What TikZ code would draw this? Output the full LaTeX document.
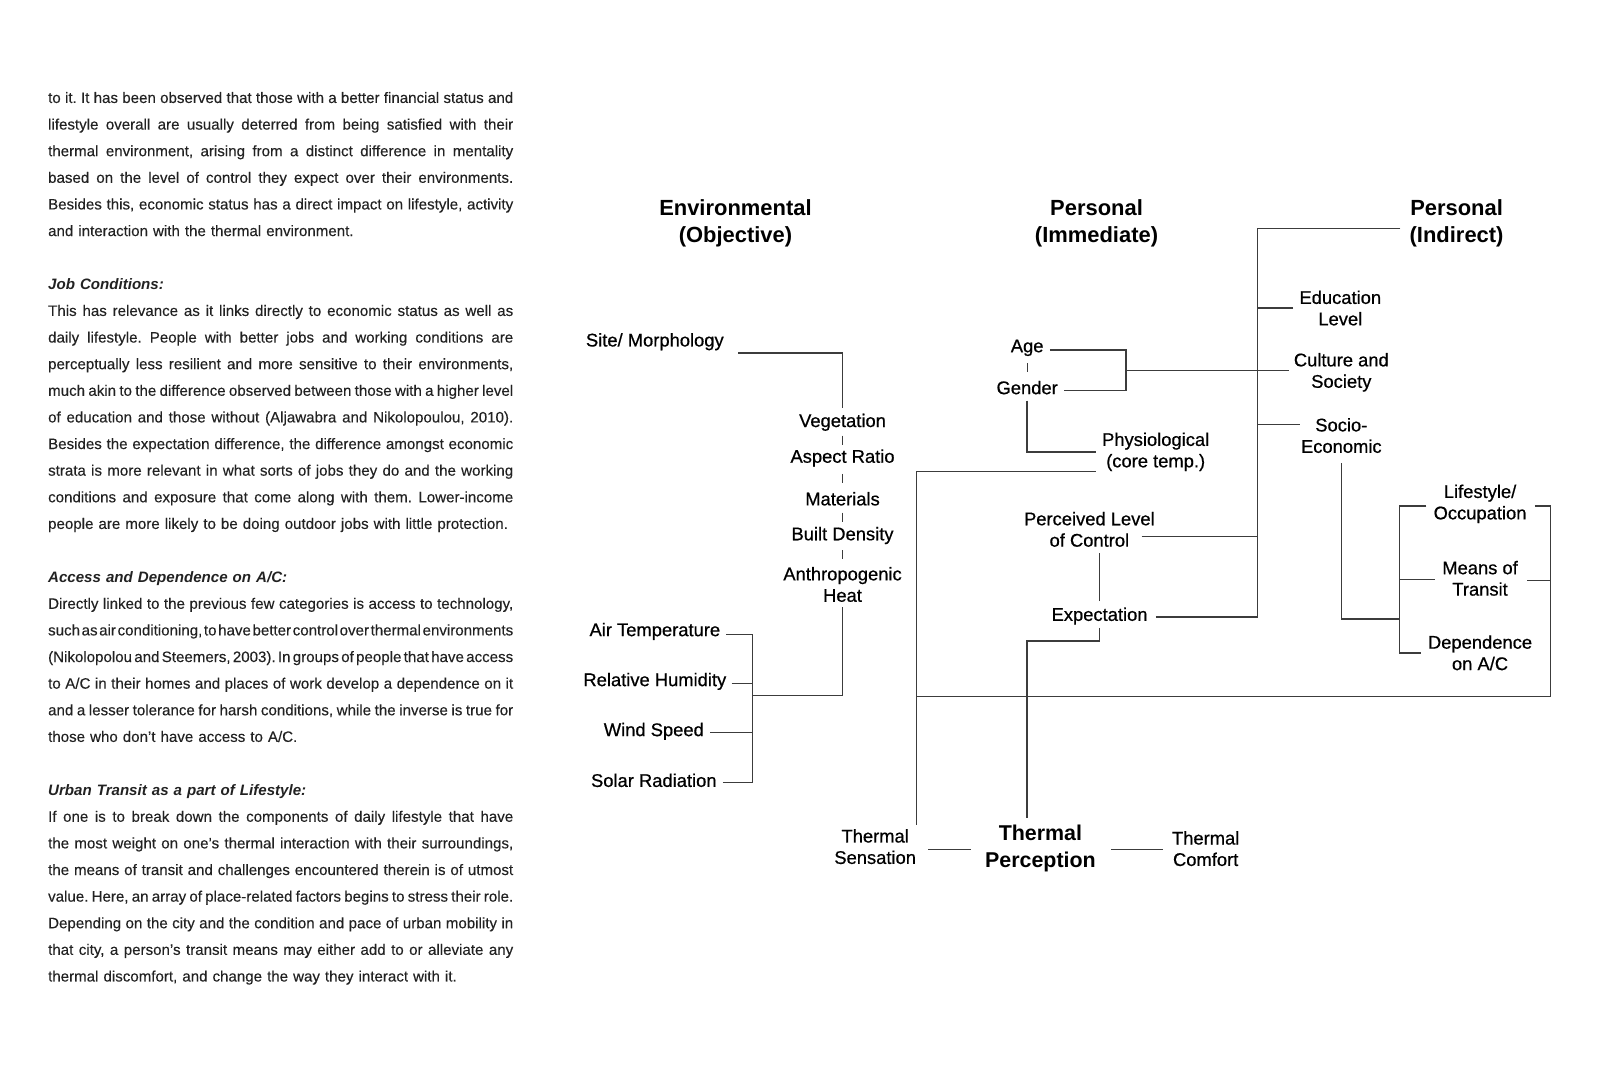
\documentclass[tikz,border=0pt]{standalone}
\usepackage{fontspec}
\setmainfont{Liberation Sans}
\newfontfamily\labfont[FakeBold=0.6]{Liberation Sans}
\newfontfamily\bodyfont[FakeBold=0.15]{Liberation Sans}
\usetikzlibrary{calc}
\definecolor{bodytext}{HTML}{222222}
\definecolor{linec}{HTML}{3C3C3C}
\newcommand\jl[1]{\makebox[\linewidth][s]{\spaceskip=0pt plus 1fil\xspaceskip=0pt plus 1fil\relax #1}\par}
\newcommand\lastln[1]{#1\par}
\newcommand\hdln[1]{{\fontspec{Liberation Sans}\bfseries\itshape #1}\par}
\newcommand\blankln{\mbox{}\par}
\begin{document}
\begin{tikzpicture}[x=1pt,y=-1pt,
  lab/.style={font=\labfont\fontsize{18}{21}\selectfont, align=center, inner sep=0pt},
  head/.style={font=\fontsize{21.5}{26}\selectfont\bfseries, align=center, inner sep=0pt},
  conn/.style={draw=linec, line width=1.4pt},
  tickmark/.style={draw=linec, line width=1.2pt}]
\fill[white] (0,-2) rectangle (1568.6,1043.1);
\useasboundingbox (0,-2) rectangle (1568.6,1043.1);

% ---------------- body text ----------------
\node[anchor=north west, inner sep=0pt, text width=456pt,
      font=\bodyfont\fontsize{14.8}{26.1}\selectfont, text=bodytext] (body) at (47,88) {%
\parindent=0pt\parskip=0pt\frenchspacing
\jl{to it. It has been observed that those with a better financial status and}
\jl{lifestyle overall are usually deterred from being satisfied with their}
\jl{thermal environment, arising from a distinct difference in mentality}
\jl{based on the level of control they expect over their environments.}
\jl{Besides this, economic status has a direct impact on lifestyle, activity}
\lastln{and interaction with the thermal environment.}
\blankln
\hdln{Job Conditions:}
\jl{This has relevance as it links directly to economic status as well as}
\jl{daily lifestyle. People with better jobs and working conditions are}
\jl{perceptually less resilient and more sensitive to their environments,}
\jl{much akin to the difference observed between those with a higher level}
\jl{of education and those without (Aljawabra and Nikolopoulou, 2010).}
\jl{Besides the expectation difference, the difference amongst economic}
\jl{strata is more relevant in what sorts of jobs they do and the working}
\jl{conditions and exposure that come along with them. Lower-income}
\lastln{people are more likely to be doing outdoor jobs with little protection.}
\blankln
\hdln{Access and Dependence on A/C:}
\jl{Directly linked to the previous few categories is access to technology,}
\jl{such as air conditioning, to have better control over thermal environments}
\jl{(Nikolopolou and Steemers, 2003). In groups of people that have access}
\jl{to A/C in their homes and places of work develop a dependence on it}
\jl{and a lesser tolerance for harsh conditions, while the inverse is true for}
\lastln{those who don’t have access to A/C.}
\blankln
\hdln{Urban Transit as a part of Lifestyle:}
\jl{If one is to break down the components of daily lifestyle that have}
\jl{the most weight on one’s thermal interaction with their surroundings,}
\jl{the means of transit and challenges encountered therein is of utmost}
\jl{value. Here, an array of place-related factors begins to stress their role.}
\jl{Depending on the city and the condition and pace of urban mobility in}
\jl{that city, a person’s transit means may either add to or alleviate any}
\lastln{thermal discomfort, and change the way they interact with it.}
};

% ---------------- headings ----------------
\node[head] (env) at (721,217) {Environmental\\(Objective)};
\node[head] (imm) at (1075,217) {Personal\\(Immediate)};
\node[head] (ind) at (1428,217) {Personal\\(Indirect)};

% ---------------- environmental ----------------
\node[lab] (site) at (642,333) {Site/ Morphology};
\node[lab] (veg)  at (826,412) {Vegetation};
\node[lab] (asp)  at (826,447) {Aspect Ratio};
\node[lab] (mat)  at (826,487) {Materials};
\node[lab] (bd)   at (826,523) {Built Density};
\node[lab] (anth) at (826,571) {Anthropogenic\\Heat};
\node[lab] (air)  at (642,617) {Air Temperature};
\node[lab] (rh)   at (642,666) {Relative Humidity};
\node[lab] (ws)   at (641,715) {Wind Speed};
\node[lab] (sr)   at (641,763) {Solar Radiation};

% ---------------- personal immediate ----------------
\node[lab] (age)  at (1007,339) {Age};
\node[lab] (gen)  at (1007,378) {Gender};
\node[lab] (phys) at (1133,441) {Physiological\\(core temp.)};
\node[lab] (perc) at (1068,517) {Perceived Level\\of Control};
\node[lab] (expc) at (1078,602) {Expectation};

% ---------------- personal indirect ----------------
\node[lab] (edu)   at (1314,300) {Education\\Level};
\node[lab] (cult)  at (1315,363) {Culture and\\Society};
\node[lab] (soc)   at (1315,425) {Socio-\\Economic};
\node[lab] (life)  at (1451,492) {Lifestyle/\\Occupation};
\node[lab] (means) at (1451,565) {Means of\\Transit};
\node[lab] (dep)   at (1451,638) {Dependence\\on A/C};

% ---------------- thermal ----------------
\node[lab] (tsens) at (858,828) {Thermal\\Sensation};
\node[head, font=\fontsize{21}{26}\selectfont\bfseries] (tperc) at (1020,830) {Thermal\\Perception};
\node[lab] (tcomf) at (1182,830) {Thermal\\Comfort};

% ---------------- junction coordinates ----------------
\coordinate (ej)  at (738,680);
\coordinate (agj) at (1104,361);
\coordinate (spb) at (1233,603);
\coordinate (lj)  at (1372,605);
\coordinate (rb)  at (1520,681);
\coordinate (tstop) at ($(tsens.north east)+(0,-4)$);
\coordinate (tpj) at ($(tperc.north)+(-13,-7)$);

% ---------------- environmental connectors ----------------
\draw[conn] ($(site.east)+(14,11)$) -| ($(veg.north)+(0,-5)$);
\draw[tickmark] ($(veg)!.5!(asp)+(0,-4.5)$) -- ++(0,9);
\draw[tickmark] ($(asp)!.5!(mat)+(0,-4.5)$) -- ++(0,9);
\draw[tickmark] ($(mat)!.5!(bd)+(0,-4.5)$) -- ++(0,9);
\draw[tickmark] ($(bd)+(0,14.5)$) -- ++(0,9);
\draw[conn] ($(anth.south)+(0,5)$) |- (ej);
\draw[conn] ($(air.east)+(6,3)$) -| (ej);
\draw[conn] ($(rh.east)+(5,2)$) -| (ej);
\draw[conn] ($(ws.east)+(6,1)$) -| (ej);
\draw[conn] ($(sr.east)+(6,2)$) -| (ej);

% ---------------- immediate connectors ----------------
\draw[tickmark] ($(age)!.5!(gen)+(0,-4.5)$) -- ++(0,9);
\draw[conn] ($(age.east)+(6,2)$) -| (agj);
\draw[conn] ($(gen.east)+(6,3)$) -| (agj);
\draw[conn] (agj) -- ($(cult.west |- agj)+(-5,0)$);
\draw[conn] ($(gen.south)+(0,6)$) |- ($(phys.west)+(-6,0)$);
\draw[conn] ($(phys.west)+(-6,19)$) -| (tstop);
\draw[conn] (rb) -- (rb -| tstop);
\draw[conn] ($(expc.north)+(0,-6)$) -- ($(expc.north |- perc.south)+(0,6)$);
\draw[conn] ($(expc.south)+(0,3)$) -- ($(expc.south)+(0,16)$) -| (tpj);

% ---------------- indirect connectors ----------------
\draw[conn] ($(ind.west)+(-9,5)$) -| (spb);
\draw[conn] ($(expc.east)+(8,1)$) -- (spb);
\draw[conn] ($(perc.east)+(-13,7)$) -- ($(perc.east -| spb)+(0,7)$);
\draw[conn] ($(edu.west)+(-6,0)$) -- (edu.west -| spb);
\draw[conn] ($(soc.west)+(-1,-11)$) -- ($(soc.west -| spb)+(0,-11)$);
\draw[conn] ($(soc.south)+(0,10)$) |- (lj);
\draw[conn] ($(life.west)+(-7,2)$) -| (lj);
\draw[conn] ($(means.west)+(-7,1)$) -| (lj);
\draw[conn] ($(dep.west)+(-7,0)$) -| (lj);
\draw[conn] ($(life.east)+(8,2)$) -| (rb);
\draw[conn] ($(means.east)+(9,2)$) -| (rb);

% ---------------- thermal connectors ----------------
\draw[conn] ($(tsens.east)+(12,3)$) -- ($(tperc.west)+(-14,1)$);
\draw[conn] ($(tperc.east)+(15,1)$) -- ($(tcomf.west)+(-9,1)$);
\end{tikzpicture}
\end{document}
